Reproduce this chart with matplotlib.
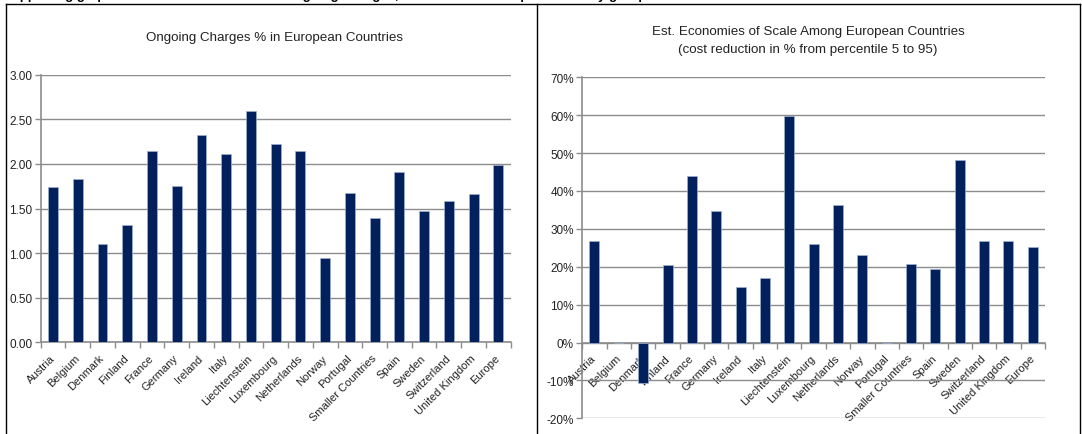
import numpy as np
import matplotlib
matplotlib.use('Agg')
import matplotlib.pyplot as plt
from matplotlib.ticker import FuncFormatter
from matplotlib.lines import Line2D

plt.rcParams['font.family'] = ['Liberation Sans', 'DejaVu Sans']

countries = ['Austria', 'Belgium', 'Denmark', 'Finland', 'France', 'Germany', 'Ireland',
             'Italy', 'Liechtenstein', 'Luxembourg', 'Netherlands', 'Norway', 'Portugal',
             'Smaller Countries', 'Spain', 'Sweden', 'Switzerland', 'United Kingdom', 'Europe']

# ongoing charges in %
ongoing_charges = [1.74, 1.83, 1.10, 1.32, 2.14, 1.75, 2.32, 2.11, 2.59, 2.22, 2.15,
                   0.94, 1.67, 1.39, 1.91, 1.47, 1.58, 1.66, 1.99]

# economies of scale, cost reduction (fraction) from percentile 5 to 95
economies = [0.267, 0.0, -0.106, 0.204, 0.440, 0.346, 0.147, 0.169, 0.597, 0.259, 0.364,
             0.231, 0.0, 0.207, 0.194, 0.482, 0.267, 0.269, 0.252]

bar_color = '#02205c'
grid_color = '#8c8c8c'
txt_color = '#222222'

W, H = 1082, 435
fig = plt.figure(figsize=(W / 100, H / 100), dpi=100)


def px(x0, y0, x1, y1):
    # pixel box -> figure fraction [left, bottom, width, height]
    return [x0 / W, 1 - y1 / H, (x1 - x0) / W, (y1 - y0) / H]


def style_axes(ax):
    n = len(countries)
    x = np.arange(n)
    ax.set_xlim(-0.5, n - 0.5)
    ax.set_xticks(np.arange(n + 1) - 0.5)
    ax.set_xticklabels([])
    ax.set_xticks(x, minor=True)
    ax.set_xticklabels(countries, minor=True, rotation=45, ha='right', va='center',
                       rotation_mode='anchor', fontsize=8, color=txt_color)
    ax.tick_params(axis='x', which='major', length=4, width=1, color=grid_color, direction='out')
    ax.tick_params(axis='x', which='minor', length=0, pad=10)
    ax.tick_params(axis='y', length=4, width=1, color=grid_color, labelsize=8.5,
                   labelcolor=txt_color, pad=2)
    ax.grid(axis='y', color=grid_color, linewidth=1)
    ax.set_axisbelow(True)
    for s in ['top', 'right']:
        ax.spines[s].set_visible(False)
    for s in ['left', 'bottom']:
        ax.spines[s].set_color(grid_color)
        ax.spines[s].set_linewidth(1.2)


# left chart
ax1 = fig.add_axes(px(40.7, 75.7, 510.7, 343.3))
ax1.bar(np.arange(len(countries)), ongoing_charges, width=0.4, color=bar_color,
        edgecolor='#9fb0d0', linewidth=0.5, zorder=3)
ax1.set_ylim(0, 3)
ax1.set_yticks(np.arange(0, 3.01, 0.5))
ax1.yaxis.set_major_formatter(FuncFormatter(lambda v, p: f'{v:.2f}'))
style_axes(ax1)
fig.text(275 / W, 1 - 38 / H, 'Ongoing Charges % in European Countries',
         ha='center', va='center', fontsize=9.6, color=txt_color)

# right chart
ax2 = fig.add_axes(px(582.3, 78.3, 1045, 419.3))
ax2.spines['bottom'].set_position(('data', 0))
ax2.bar(np.arange(len(countries)), economies, width=0.41, color=bar_color,
        edgecolor='#9fb0d0', linewidth=0.5, zorder=3)
ax2.set_ylim(-0.2, 0.7)
ax2.set_yticks(np.arange(-0.2, 0.701, 0.1))
ax2.yaxis.set_major_formatter(FuncFormatter(lambda v, p: f'{v * 100:.0f}%'))
style_axes(ax2)
fig.text(808 / W, 1 - 41 / H,
         'Est. Economies of Scale Among European Countries\n(cost reduction in % from percentile 5 to 95)',
         ha='center', va='center', fontsize=9.6, color=txt_color, linespacing=1.65)

# panel frames
for xs, ys in [([5.5, 5.5], [435, 5]), ([5.5, 1080], [5, 5]), ([536.5, 536.5], [5, 435]),
               ([1079.5, 1079.5], [5, 435])]:
    fig.add_artist(Line2D([x / W for x in xs], [1 - y / H for y in ys], color='black', lw=1))

# cut-off heading above the panels
fig.text(3 / W, 1 + 1 / H,
         'Supporting graphs: Economies of Scale and Ongoing Charges, Estimated for European Country groups',
         ha='left', va='baseline', fontsize=9.5, fontweight='bold', color='black')

fig.savefig('out.png', dpi=100)
